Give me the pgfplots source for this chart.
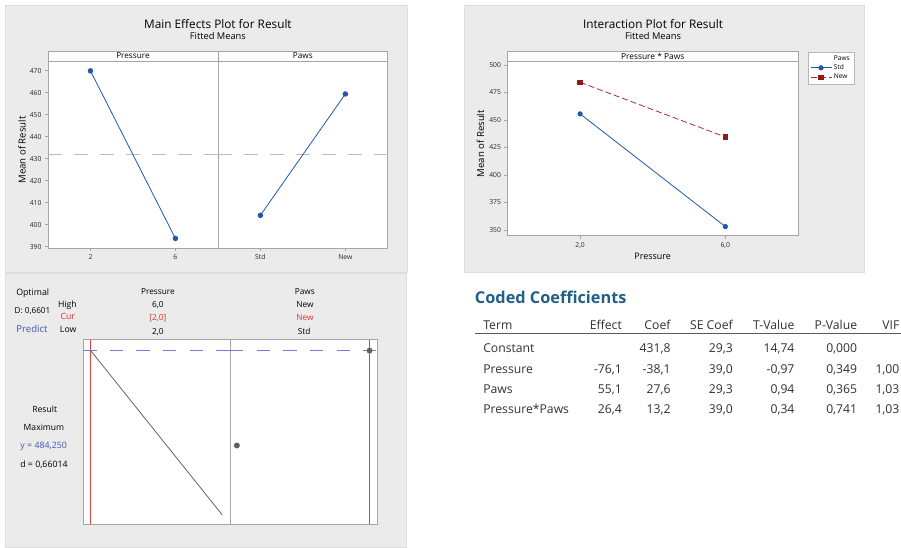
\documentclass[border=0pt]{standalone}
\usepackage{fontspec}
\setmainfont{Open Sans}
\usepackage{pgfplots}
\pgfplotsset{compat=1.18}
\definecolor{bggray}{RGB}{235,235,235}
\definecolor{bgline}{RGB}{222,222,222}
\definecolor{framegray}{RGB}{165,165,165}
\definecolor{mtblue}{RGB}{33,89,168}
\definecolor{mtred}{RGB}{142,26,26}
\definecolor{mtredline}{RGB}{165,45,45}
\definecolor{refgray}{RGB}{188,188,188}
\definecolor{optblue}{RGB}{118,126,212}
\definecolor{optred}{RGB}{230,60,60}
\definecolor{curvegray}{RGB}{100,100,100}
\definecolor{ptgray}{RGB}{95,95,95}
\definecolor{predblue}{RGB}{70,80,180}
\definecolor{curred}{RGB}{225,50,50}
\definecolor{tealc}{RGB}{33,95,135}
\definecolor{tabtext}{RGB}{50,50,50}
\newcommand{\fs}[1]{\fontsize{#1}{#1}\selectfont}
\pgfplotsset{
 mt/.style={scale only axis, axis background/.style={fill=white},
  axis line style={draw=framegray, line width=0.7pt},
  tick style={draw=framegray, line width=0.7pt}, major tick length=3pt,
  tick align=outside, xtick pos=bottom, ytick pos=left,
  ticklabel style={font=\fs{6.8}, text=black!85},
  /pgf/number format/assume math mode=true},
}
\begin{document}
\begin{tikzpicture}
\begin{scope}[x=1pt,y=-1pt]
\path[use as bounding box, fill=white] (0,0) rectangle (901,548);
\filldraw[fill=bggray, draw=bgline, line width=0.6pt] (5,5) rectangle (407,272.5);
\filldraw[fill=bggray, draw=bgline, line width=0.6pt] (5,273.5) rectangle (406,547.5);
\filldraw[fill=bggray, draw=bgline, line width=0.6pt] (464.5,5) rectangle (865,272.5);
\end{scope}

% ---------- Main effects ----------
\begin{axis}[mt, at={(48pt,-248pt)}, anchor=south west, width=170pt, height=187pt,
  xmin=0, xmax=8, ymin=389.4, ymax=474.4, xtick={2,6}, ytick={390,400,410,420,430,440,450,460,470}]
\addplot[refgray, line width=1.3pt, dash pattern=on 14pt off 12pt] coordinates {(0,431.8) (8,431.8)};
\addplot[mtblue, line width=0.8pt, mark=*, mark size=2.3pt] coordinates {(2,469.9) (6,393.7)};
\end{axis}
\begin{axis}[mt, at={(218pt,-248pt)}, anchor=south west, width=170pt, height=187pt,
  xmin=-0.5, xmax=1.5, ymin=389.4, ymax=474.4, xtick={0,1}, xticklabels={Std,New}, ytick=\empty]
\addplot[refgray, line width=1.3pt, dash pattern=on 14pt off 12pt] coordinates {(-0.5,431.8) (1.5,431.8)};
\addplot[mtblue, line width=0.8pt, mark=*, mark size=2.3pt] coordinates {(0,404.2) (1,459.4)};
\end{axis}

% ---------- Interaction ----------
\begin{axis}[mt, at={(507.7pt,-235.7pt)}, anchor=south west, width=290.6pt, height=174pt,
  xmin=0, xmax=8, ymin=344.8, ymax=503, xtick={2,6}, xticklabels={{2,0},{6,0}},
  ytick={350,375,400,425,450,475,500},
  legend style={at={(1.0344,1.0575)}, anchor=north west, draw=framegray!80, font=\fs{6.6},
    inner xsep=2pt, inner ysep=1.5pt, row sep=-1pt, cells={anchor=west}},
  legend image code/.code={\draw[mark repeat=2,mark phase=2,#1] plot coordinates {(0pt,0pt) (10.5pt,0pt) (21pt,0pt)};}]
\addlegendimage{empty legend}\addlegendentry{Paws}
\addplot[mtblue, line width=0.8pt, mark=*, mark size=2.2pt] coordinates {(2,455.5) (6,353.0)};
\addlegendentry{Std}
\addplot[mtredline, line width=0.8pt, dash pattern=on 6pt off 3pt, mark=square*, mark size=2.2pt,
  mark options={solid, fill=mtred, draw=mtred}] coordinates {(2,484.25) (6,434.5)};
\addlegendentry{New}
\end{axis}

% ---------- Optimizer ----------
\begin{axis}[mt, at={(83.3pt,-524.3pt)}, anchor=south west, width=147pt, height=184.3pt,
  xmin=1.775, xmax=6.243, ymin=431.7, ymax=487.5, xtick=\empty, ytick=\empty]
\addplot[optred, line width=1.1pt] coordinates {(2,431.7) (2,487.5)};
\addplot[optblue, line width=1.3pt, dash pattern=on 13.3pt off 13.3pt] coordinates {(1.775,484.25) (6.243,484.25)};
\addplot[curvegray, line width=0.8pt] coordinates {(2,484.25) (6,434.5)};
\end{axis}
\begin{axis}[mt, at={(230.3pt,-524.3pt)}, anchor=south west, width=147pt, height=184.3pt,
  xmin=-0.05, xmax=1.057, ymin=431.7, ymax=487.5, xtick=\empty, ytick=\empty]
\addplot[draw=optred, line width=1.4pt, no marks] coordinates {(1,431.7) (1,487.5)};
\addplot[optblue, line width=1.3pt, dash pattern=on 13.3pt off 13.3pt] coordinates {(-0.05,484.25) (1.057,484.25)};
\addplot[only marks, mark=*, mark size=2.7pt, ptgray] coordinates {(0,455.5) (1,484.25)};
\end{axis}

\begin{scope}[x=1pt,y=-1pt]
% strips
\filldraw[fill=white, draw=framegray, line width=0.7pt] (48,51) rectangle (218,61);
\filldraw[fill=white, draw=framegray, line width=0.7pt] (218,51) rectangle (388,61);
\filldraw[fill=white, draw=framegray, line width=0.7pt] (507.7,51.7) rectangle (798.3,61.7);
\node[anchor=base, font=\fs{8.2}, inner sep=0] at (133,58.6) {Pressure};
\node[anchor=base, font=\fs{8.2}, inner sep=0] at (303,58.6) {Paws};
\node[anchor=base, font=\fs{8.4}, inner sep=0] at (653,59.4) {Pressure * Paws};
% titles
\node[anchor=base, font=\fs{11.8}, inner sep=0] at (218,28.3) {Main Effects Plot for Result};
\node[anchor=base, font=\fs{9.3}, inner sep=0] at (218,40) {Fitted Means};
\node[anchor=base, font=\fs{11.8}, inner sep=0] at (653.3,28.3) {Interaction Plot for Result};
\node[anchor=base, font=\fs{9.3}, inner sep=0] at (653.3,40) {Fitted Means};
\node[rotate=90, font=\fs{9.6}, inner sep=0] at (22,150) {Mean of Result};
\node[rotate=90, font=\fs{9.6}, inner sep=0] at (480.7,143.7) {Mean of Result};
\node[anchor=base, font=\fs{9}, inner sep=0] at (653,259.3) {Pressure};
% optimizer texts
\node[anchor=base, font=\fs{8.8}, inner sep=0] at (32.7,296) {Optimal};
\node[anchor=base, font=\fs{8.2}, inner sep=0] at (32.5,313.3) {D: 0,6601};
\node[anchor=base, font=\fs{9.6}, inner sep=0, text=predblue] at (32,332.3) {Predict};
\node[anchor=base, font=\fs{8.7}, inner sep=0] at (67.5,307.3) {High};
\node[anchor=base, font=\fs{8.7}, inner sep=0, text=curred] at (67.8,320) {Cur};
\node[anchor=base, font=\fs{8.7}, inner sep=0] at (68.2,332.3) {Low};
\node[anchor=base, font=\fs{8.3}, inner sep=0] at (158,294.3) {Pressure};
\node[anchor=base, font=\fs{8.3}, inner sep=0] at (158,307.7) {6,0};
\node[anchor=base, font=\fs{8.3}, inner sep=0, text=curred] at (158,320.7) {[2,0]};
\node[anchor=base, font=\fs{8.3}, inner sep=0] at (158,334.3) {2,0};
\node[anchor=base, font=\fs{8.3}, inner sep=0] at (305,294.3) {Paws};
\node[anchor=base, font=\fs{8.3}, inner sep=0] at (305,307.7) {New};
\node[anchor=base, font=\fs{8.3}, inner sep=0, text=curred] at (305,320.7) {New};
\node[anchor=base, font=\fs{8.3}, inner sep=0] at (304.3,334.3) {Std};
\node[anchor=base, font=\fs{8.6}, inner sep=0] at (44.7,412.3) {Result};
\node[anchor=base, font=\fs{8.6}, inner sep=0] at (44,430.7) {Maximum};
\node[anchor=base, font=\fs{8.8}, inner sep=0, text=predblue] at (43.7,449) {y = 484,250};
\node[anchor=base, font=\fs{8.8}, inner sep=0] at (44,467.3) {d = 0,66014};
% coded coefficients table
\node[anchor=base west, font=\fs{16.3}\bfseries, inner sep=0, text=tealc] at (475,304) {Coded Coefficients};
\draw[tabtext!80, line width=0.8pt] (475,333.3) -- (901,333.3);
\begin{scope}[every node/.style={font=\fs{12.2}, inner sep=0, text=tabtext}]
\node[anchor=base west] at (483.3,330) {Term};
\node[anchor=base east] at (622.3,330) {Effect};
\node[anchor=base east] at (671,330) {Coef};
\node[anchor=base east] at (733.3,330) {SE Coef};
\node[anchor=base east] at (795,330) {T-Value};
\node[anchor=base east] at (857.7,330) {P-Value};
\node[anchor=base east] at (900,330) {VIF};
\node[anchor=base west] at (483.3,352.7) {Constant};
\node[anchor=base east] at (671,352.7) {431,8};
\node[anchor=base east] at (733.3,352.7) {29,3};
\node[anchor=base east] at (795,352.7) {14,74};
\node[anchor=base east] at (857.7,352.7) {0,000};
\node[anchor=base west] at (483.3,373.3) {Pressure};
\node[anchor=base east] at (622.3,373.3) {-76,1};
\node[anchor=base east] at (671,373.3) {-38,1};
\node[anchor=base east] at (733.3,373.3) {39,0};
\node[anchor=base east] at (795,373.3) {-0,97};
\node[anchor=base east] at (857.7,373.3) {0,349};
\node[anchor=base east] at (900,373.3) {1,00};
\node[anchor=base west] at (483.3,393.3) {Paws};
\node[anchor=base east] at (622.3,393.3) {55,1};
\node[anchor=base east] at (671,393.3) {27,6};
\node[anchor=base east] at (733.3,393.3) {29,3};
\node[anchor=base east] at (795,393.3) {0,94};
\node[anchor=base east] at (857.7,393.3) {0,365};
\node[anchor=base east] at (900,393.3) {1,03};
\node[anchor=base west] at (483.3,413.3) {Pressure*Paws};
\node[anchor=base east] at (622.3,413.3) {26,4};
\node[anchor=base east] at (671,413.3) {13,2};
\node[anchor=base east] at (733.3,413.3) {39,0};
\node[anchor=base east] at (795,413.3) {0,34};
\node[anchor=base east] at (857.7,413.3) {0,741};
\node[anchor=base east] at (900,413.3) {1,03};
\end{scope}
\end{scope}
\end{tikzpicture}
\end{document}
